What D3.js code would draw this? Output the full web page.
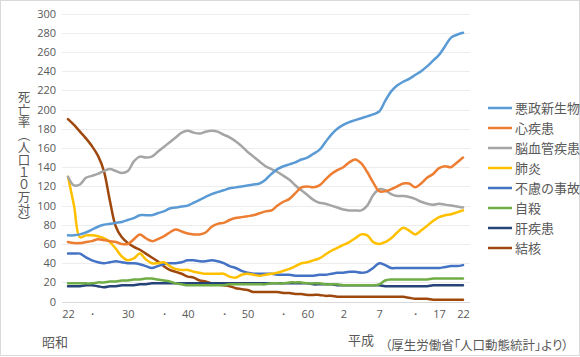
<!DOCTYPE html>
<html><head><meta charset="utf-8">
<script src="https://cdn.jsdelivr.net/npm/d3@7"></script>
<style>
html,body{margin:0;padding:0;background:#fff;}
svg{display:block;}
text{font-family:"Noto Sans CJK JP","Noto Sans",sans-serif;}
</style></head>
<body>
<svg id="c" width="580" height="357"></svg>
<script>
// ---- data (categories: 67 evenly spaced points, 昭和22 … 平成22) ----
const nCats = 67;
const tickIdx  = [0,4,10,16,20,26,30,36,40,46,52,58,62,66];
const tickText = ["22","・","30","・","40","・","50","・","60","2","7","・","17","22"];
const yTicks = d3.range(0, 301, 20);

const seriesNames  = ["悪政新生物","心疾患","脳血管疾患","肺炎","不慮の事故","自殺","肝疾患","結核"];
const seriesColors = ["#5B9BD5","#ED7D31","#A5A5A5","#FFC000","#4472C4","#70AD47","#264478","#9E480E"];

const cancer = [69,69,70,72,75,78,80,81,82,83,85,87,90,90,90,92,94,97,98,99,100,103,106,109,112,114,116,118,119,120,121,122,123,127,133,138,141,143,145,148,150,154,158,166,174,180,184,187,189,191,193,195,198,209,219,225,229,232,236,240,245,251,257,266,275,278,280];
const heart = [62,61,61,62,63,65,64,63,62,60,60,65,70,66,63,65,68,72,75,73,71,70,70,72,78,81,82,85,87,88,89,90,92,94,95,100,104,107,113,119,120,119,121,127,133,137,140,145,148,144,135,124,115,115,117,120,123,123,119,123,129,133,139,141,140,145,150];
const cerebro = [130,121,122,129,131,133,136,138,136,134,136,146,151,150,151,156,161,166,171,176,178,176,175,177,178,177,174,171,167,162,156,151,146,141,138,135,131,127,121,116,111,106,103,102,100,98,96,95,95,95,100,111,117,116,112,110,110,109,107,104,102,101,102,101,100,99,98];
const pneumonia = [130,100,67,69,69,68,66,62,55,47,43,45,50,44,40,40,41,37,34,33,33,31,30,29,29,29,29,26,25,28,29,28,27,28,29,30,32,34,37,40,41,43,45,49,53,56,59,62,66,70,69,62,60,62,66,72,77,74,70,74,79,84,88,90,91,93,95];
const accident = [50,50,50,46,43,41,40,41,42,41,40,40,39,37,35,37,39,40,40,41,43,43,42,42,43,42,40,37,35,32,30,29,29,29,29,28,28,28,27,27,27,27,28,28,29,30,30,31,31,30,31,35,40,38,35,35,35,35,35,35,35,35,35,36,37,37,38];
const suicide = [19,19,19,19,19,20,20,21,21,22,22,23,23,24,24,23,22,21,19,18,17,17,17,17,17,17,17,18,18,18,18,18,18,18,19,19,19,20,20,20,19,19,19,18,18,18,17,17,17,17,17,17,18,22,23,23,23,23,23,23,23,24,24,24,24,24,24];
const liver = [16,16,16,17,17,16,15,16,16,17,17,17,18,18,19,19,19,19,19,19,19,19,19,19,19,19,19,19,19,19,19,19,19,19,19,19,19,19,19,19,19,18,18,18,18,17,17,17,17,17,17,17,17,16,16,16,16,16,16,16,16,17,17,17,17,17,17];
const tuberculosis = [190,184,177,170,162,152,136,105,78,67,61,57,54,50,46,42,37,33,31,29,26,25,22,21,19,18,17,16,14,13,12,10,10,10,10,10,9,9,8,8,7,7,7,6,6,5,5,5,5,5,5,5,5,5,5,5,5,4,3,3,3,2,2,2,2,2,2];

const seriesValues = [cancer, heart, cerebro, pneumonia, accident, suicide, liver, tuberculosis];

// ---- layout ----
const svg = d3.select("#c");
const gridLeft = 62, gridRight = 470;
const x = d3.scalePoint().domain(d3.range(nCats)).range([68, 463]);
const y = d3.scaleLinear().domain([0, 300]).range([301.6, 13.6]);
const txt = "#595959";

// border
svg.append("rect").attr("x",0.5).attr("y",0.5).attr("width",579).attr("height",355)
  .attr("fill","#fff").attr("stroke","#D9D9D9");

// gridlines
svg.append("g").selectAll("line").data(yTicks).join("line")
  .attr("x1", gridLeft).attr("x2", gridRight)
  .attr("y1", d => Math.round(y(d)) + 0.5).attr("y2", d => Math.round(y(d)) + 0.5)
  .attr("stroke", d => d === 0 ? "#D9D9D9" : "#EDEDED").attr("stroke-width", 1);

// y axis labels
const yAxis = svg.append("g").attr("transform", `translate(${gridLeft - 6},0)`)
  .call(d3.axisLeft(y).tickValues(yTicks).tickSize(0).tickPadding(0));
yAxis.select(".domain").remove();
yAxis.selectAll("text").attr("fill", txt).style("font-size","11px")
  .style("font-family","'Open Sans','Noto Sans',sans-serif");

// x axis labels
const xAxis = svg.append("g").attr("transform", `translate(0,${y(0)})`)
  .call(d3.axisBottom(x).tickValues(tickIdx)
    .tickFormat(d => tickText[tickIdx.indexOf(d)]).tickSize(0).tickPadding(9));
xAxis.select(".domain").remove();
xAxis.selectAll("text").attr("fill", txt).style("font-size","11px")
  .style("font-family","'Open Sans','Noto Sans',sans-serif");

// y axis title (vertical)
svg.append("text").attr("x", 24).attr("y", 91)
  .style("writing-mode","vertical-rl").style("text-orientation","upright")
  .attr("fill", txt).style("font-size","12.5px")
  .text("死亡率（人口１０万対）");

// era labels and source
svg.append("text").attr("x", 55).attr("y", 347).attr("text-anchor","middle")
  .attr("fill", txt).style("font-size","13px").text("昭和");
svg.append("text").attr("x", 361).attr("y", 345).attr("text-anchor","middle")
  .attr("fill", txt).style("font-size","13px").text("平成");
svg.append("text").attr("x", 385).attr("y", 350)
  .attr("fill", txt).style("font-size","12.5px").style("font-feature-settings","'palt'")
  .text("（厚生労働省「人口動態統計」より）");

// lines
const line = d3.line().x((d, i) => x(i)).y(d => y(d)).curve(d3.curveCatmullRom.alpha(0.5));
const order = [7,6,5,4,3,2,1,0];
svg.append("g").selectAll("path").data(order).join("path")
  .attr("d", k => line(seriesValues[k]))
  .attr("fill","none").attr("stroke", k => seriesColors[k])
  .attr("stroke-width", 2.5).attr("stroke-linejoin","round").attr("stroke-linecap","round");

// legend
const lg = svg.append("g").attr("transform","translate(488,108)");
const item = lg.selectAll("g").data(seriesNames).join("g")
  .attr("transform", (d, i) => `translate(0,${i * 20})`);
item.append("line").attr("x1",0).attr("x2",24).attr("y1",0).attr("y2",0)
  .attr("stroke", (d, i) => seriesColors[i]).attr("stroke-width", 2.5);
item.append("text").attr("x", 27).attr("y", 0).attr("dy","0.35em")
  .attr("fill", txt).style("font-size","13px").text(d => d);
</script>
</body></html>
